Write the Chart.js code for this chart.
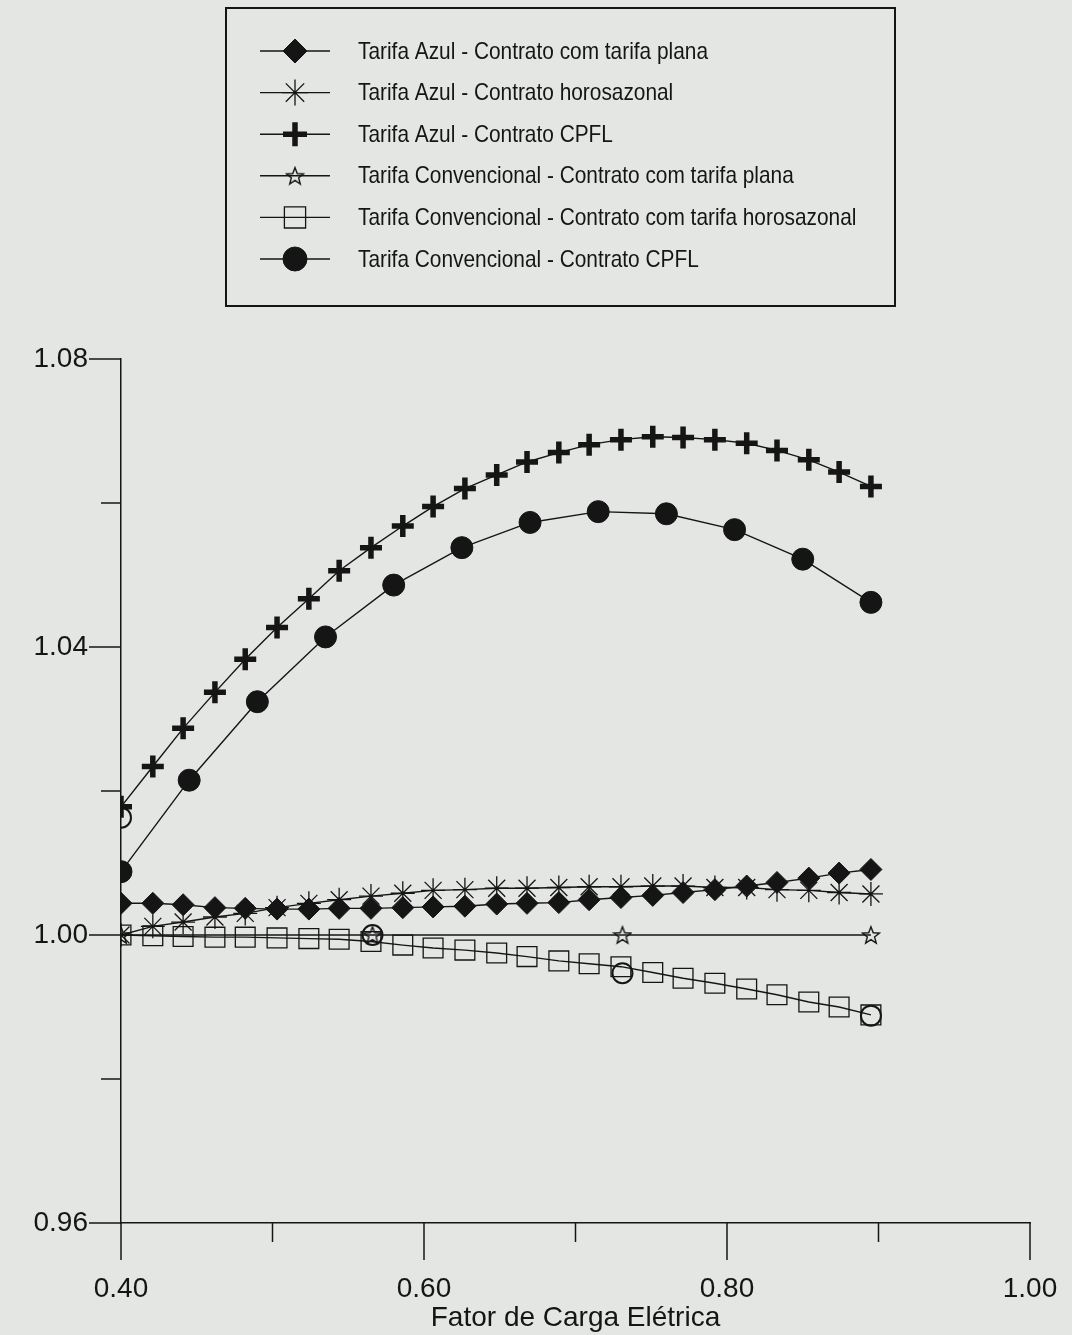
<!DOCTYPE html>
<html>
<head>
<meta charset="utf-8">
<title>Fator de Carga Elétrica</title>
<script src="https://cdn.jsdelivr.net/npm/chart.js@4.4.0/dist/chart.umd.min.js"></script>
<style>
  html, body { margin: 0; padding: 0; background: #e4e6e3; }
  #wrap { width: 1072px; height: 1335px; position: relative; }
</style>
</head>
<body>
<div id="wrap"><canvas id="chart"></canvas></div>
<script>
// load factor steps of the "Tarifa Azul" runs and the horosazonal conventional run
var xAzul = [0.400, 0.421, 0.441, 0.462, 0.482, 0.503, 0.524, 0.544, 0.565, 0.586, 0.606, 0.627, 0.648,
             0.668, 0.689, 0.709, 0.730, 0.751, 0.771, 0.792, 0.813, 0.833, 0.854, 0.874, 0.895];
var azulPlana = [1.0044, 1.0044, 1.0042, 1.0038, 1.0037, 1.0036, 1.0036, 1.0037, 1.0037, 1.0038, 1.0039, 1.0040, 1.0043,
                 1.0044, 1.0045, 1.0049, 1.0052, 1.0055, 1.0059, 1.0063, 1.0068, 1.0073, 1.0079, 1.0086, 1.0091];
var azulHoro = [1.0000, 1.0012, 1.0018, 1.0025, 1.0030, 1.0038, 1.0044, 1.0049, 1.0054, 1.0058, 1.0062, 1.0063, 1.0065,
                1.0065, 1.0066, 1.0067, 1.0067, 1.0068, 1.0068, 1.0066, 1.0066, 1.0063, 1.0062, 1.0059, 1.0057];
var azulCpfl = [1.0178, 1.0234, 1.0287, 1.0337, 1.0383, 1.0427, 1.0467, 1.0506, 1.0538, 1.0568, 1.0595, 1.0620, 1.0639,
                1.0657, 1.0670, 1.0681, 1.0688, 1.0692, 1.0691, 1.0688, 1.0683, 1.0673, 1.0660, 1.0643, 1.0623];
var convHoro = [1.0000, 0.9999, 0.9998, 0.9997, 0.9997, 0.9996, 0.9995, 0.9994, 0.9991, 0.9986, 0.9982, 0.9979, 0.9975,
                0.9970, 0.9964, 0.9960, 0.9956, 0.9948, 0.9940, 0.9933, 0.9925, 0.9917, 0.9907, 0.9900, 0.9889];

var xConvCpfl = [0.400, 0.445, 0.490, 0.535, 0.580, 0.625, 0.670, 0.715, 0.760, 0.805, 0.850, 0.895];
var convCpfl = [1.0088, 1.0215, 1.0324, 1.0414, 1.0486, 1.0538, 1.0573, 1.0588, 1.0585, 1.0563, 1.0522, 1.0462];

var xConvPlana = [0.400, 0.566, 0.731, 0.895];
var convPlana = [1.0000, 1.0000, 1.0000, 1.0000];
// open circles printed without a legend entry
var semLegenda = [1.0163, 1.0000, 0.9947, 0.9888];

var seriesNames = [
  'Tarifa Azul - Contrato com tarifa plana',
  'Tarifa Azul - Contrato horosazonal',
  'Tarifa Azul - Contrato CPFL',
  'Tarifa Convencional - Contrato com tarifa plana',
  'Tarifa Convencional - Contrato com tarifa horosazonal',
  'Tarifa Convencional - Contrato CPFL'
];
var xTickMin = 0.40, xTickMax = 1.00, xTickStep = 0.10;
var yTickMin = 0.96, yTickMax = 1.08, yTickStep = 0.02;
var axisTitle = 'Fator de Carga Elétrica';

var ink = '#151515';
var fontFam = '"Liberation Sans", Arial, sans-serif';

function pts(xs, ys) {
  return ys.map(function (v, i) { return { x: xs[i], y: v }; });
}

// five pointed open star, not one of the built in point styles
var starImg = document.createElement('canvas');
starImg.width = 20; starImg.height = 20;
(function () {
  var c = starImg.getContext('2d');
  c.strokeStyle = ink; c.lineWidth = 1.4;
  c.beginPath();
  for (var i = 0; i < 10; i++) {
    var r = i % 2 === 0 ? 9 : 3.8;
    var a = -Math.PI / 2 + i * Math.PI / 5;
    var px = 10 + r * Math.cos(a), py = 10.8 + r * Math.sin(a);
    if (i === 0) c.moveTo(px, py); else c.lineTo(px, py);
  }
  c.closePath();
  c.stroke();
})();

function serie(label, data, style, radius, fill, bw) {
  return {
    label: label,
    data: data,
    showLine: true,
    borderColor: ink,
    borderWidth: 1.4,
    pointStyle: style,
    pointRadius: radius,
    pointHoverRadius: radius,
    pointBackgroundColor: fill,
    pointBorderColor: ink,
    pointBorderWidth: bw
  };
}

var datasets = [
  serie(seriesNames[0], pts(xAzul, azulPlana), 'rectRot', 11, ink, 1),
  serie(seriesNames[1], pts(xAzul, azulHoro), 'star', 12, 'rgba(0,0,0,0)', 1.3),
  serie(seriesNames[2], pts(xAzul, azulCpfl), 'cross', 11, ink, 5.5),
  serie(seriesNames[3], pts(xConvPlana, convPlana), starImg, 10, 'rgba(0,0,0,0)', 1.3),
  serie(seriesNames[4], pts(xAzul, convHoro), 'rect', 14, 'rgba(0,0,0,0)', 1.3),
  serie(seriesNames[5], pts(xConvCpfl, convCpfl), 'circle', 11, ink, 1)
];
var extra = serie('', pts(xConvPlana, semLegenda), 'circle', 10, 'rgba(0,0,0,0)', 2);
extra.showLine = false;
datasets.push(extra);

// ticks: long ones where there is a label, short ones in between
var axisTicks = {
  id: 'axisTicks',
  afterDraw: function (chart) {
    var ctx = chart.ctx, area = chart.chartArea;
    var x = chart.scales.x, y = chart.scales.y;
    ctx.save();
    ctx.strokeStyle = ink;
    ctx.lineWidth = 1.5;
    x.ticks.forEach(function (t) {
      var px = x.getPixelForValue(t.value);
      var len = Math.round(t.value * 100) % 20 === 0 ? 37 : 19;
      ctx.beginPath(); ctx.moveTo(px, area.bottom); ctx.lineTo(px, area.bottom + len); ctx.stroke();
    });
    y.ticks.forEach(function (t) {
      var py = y.getPixelForValue(t.value);
      var len = Math.round(t.value * 100) % 4 === 0 ? 32 : 20;
      ctx.beginPath(); ctx.moveTo(area.left, py); ctx.lineTo(area.left - len, py); ctx.stroke();
    });
    ctx.restore();
  }
};

// boxed legend with the line running through each marker
var boxLegend = {
  id: 'boxLegend',
  afterDraw: function (chart) {
    var ctx = chart.ctx;
    var left = 226, top = 8, right = 895, bottom = 306;
    ctx.save();
    ctx.strokeStyle = ink;
    ctx.lineWidth = 2;
    ctx.strokeRect(left, top, right - left, bottom - top);
    ctx.font = '24px ' + fontFam;
    var sx = 350 / ctx.measureText(seriesNames[0]).width;
    for (var i = 0; i < seriesNames.length; i++) {
      var ds = chart.data.datasets[i];
      var yy = 51 + i * 41.6;
      ctx.lineWidth = 1.4;
      ctx.beginPath(); ctx.moveTo(260, yy); ctx.lineTo(330, yy); ctx.stroke();
      ctx.fillStyle = ds.pointBackgroundColor;
      ctx.lineWidth = ds.pointBorderWidth;
      Chart.helpers.drawPoint(ctx, {
        pointStyle: ds.pointStyle, radius: ds.pointRadius + 1, rotation: 0, borderWidth: ds.pointBorderWidth
      }, 295, yy);
      ctx.fillStyle = ink;
      ctx.textBaseline = 'middle';
      ctx.save();
      ctx.translate(358, yy + 1);
      ctx.scale(sx, 1);
      ctx.fillText(seriesNames[i], 0, 0);
      ctx.restore();
    }
    ctx.restore();
  }
};

var config = {
  type: 'scatter',
  data: { datasets: datasets },
  options: {
    responsive: true,
    maintainAspectRatio: false,
    animation: false,
    layout: { padding: { top: 359, right: 42, left: 0, bottom: 0 } },
    plugins: {
      legend: { display: false },
      tooltip: { enabled: false }
    },
    scales: {
      x: {
        type: 'linear',
        min: xTickMin, max: xTickMax,
        afterFit: function (s) { s.height = 112; s.paddingLeft = 0; s.paddingRight = 0; },
        border: { display: true, color: ink, width: 1.5 },
        grid: { display: false, drawTicks: false },
        ticks: {
          stepSize: xTickStep, autoSkip: false, maxRotation: 0, padding: 49,
          color: ink, font: { family: fontFam, size: 28 },
          callback: function (v) { return Math.round(v * 100) % 20 === 0 ? v.toFixed(2) : ''; }
        },
        title: {
          display: true, text: axisTitle, color: ink,
          font: { family: fontFam, size: 28 }, padding: { top: 0, bottom: 0 }
        }
      },
      y: {
        type: 'linear',
        min: yTickMin, max: yTickMax,
        afterFit: function (s) { s.width = 121; },
        border: { display: true, color: ink, width: 1.5 },
        grid: { display: false, drawTicks: false },
        ticks: {
          stepSize: yTickStep, autoSkip: false, padding: 33,
          color: ink, font: { family: fontFam, size: 28 },
          callback: function (v) { return Math.round(v * 100) % 4 === 0 ? v.toFixed(2) : ''; }
        }
      }
    }
  },
  plugins: [axisTicks, boxLegend]
};

window.onload = function () {
  var ctx = document.getElementById('chart').getContext('2d');
  window.myChart = new Chart(ctx, config);
};
</script>
</body>
</html>
